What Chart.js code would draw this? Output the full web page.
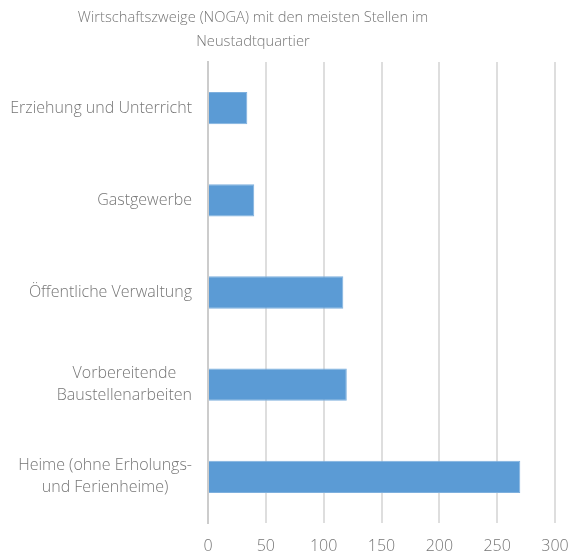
<!DOCTYPE html>
<html>
<head>
<meta charset="utf-8">
<script src="https://cdn.jsdelivr.net/npm/chart.js@4/dist/chart.umd.min.js"></script>
<style>
  html, body { margin: 0; padding: 0; background: #fff; }
  #wrap { width: 571px; height: 553px; }
</style>
</head>
<body>
<div id="wrap"><canvas id="nogaChart" width="571" height="553"></canvas></div>
<script>
const categories = [
    ['Erziehung und Unterricht'],
    ['Gastgewerbe'],
    ['Öffentliche Verwaltung'],
    ['Vorbereitende', 'Baustellenarbeiten'],
    ['Heime (ohne Erholungs-', 'und Ferienheime)']
];
const stellen = [34, 40, 117, 120, 270];
const xTicks = [0, 50, 100, 150, 200, 250, 300];
const titleLines = ['Wirtschaftszweige (NOGA) mit den meisten Stellen im', 'Neustadtquartier'];

const textColor = '#767676';
const fontFamily = "'Open Sans', sans-serif";

// title and category labels drawn by hand so they sit where the original puts them
const chartText = {
    id: 'chartText',
    afterDraw(chart) {
        const ctx = chart.ctx;
        const yScale = chart.scales.y;
        ctx.save();
        ctx.fillStyle = textColor;
        ctx.textAlign = 'center';
        ctx.textBaseline = 'middle';

        ctx.font = '300 14.7px ' + fontFamily;
        titleLines.forEach((line, j) => ctx.fillText(line, 253, 18 + j * 24));

        ctx.font = '300 16px ' + fontFamily;
        categories.forEach((lines, i) => {
            const y = yScale.getPixelForTick(i);
            const maxW = Math.max(...lines.map(l => ctx.measureText(l).width));
            const cx = 192 - maxW / 2;
            lines.forEach((line, j) => {
                ctx.fillText(line, cx, y + (j - (lines.length - 1) / 2) * 22);
            });
        });
        ctx.restore();
    }
};

new Chart(document.getElementById('nogaChart').getContext('2d'), {
    type: 'bar',
    data: {
        labels: categories,
        datasets: [{
            label: 'Stellen',
            data: stellen,
            backgroundColor: '#5b9bd5',
            borderColor: '#7eb0de',
            borderWidth: 1,
            categoryPercentage: 1,
            barPercentage: 0.35
        }]
    },
    options: {
        indexAxis: 'y',
        responsive: false,
        animation: false,
        layout: { padding: { left: 0, right: 16, top: 62, bottom: 0 } },
        plugins: {
            legend: { display: false },
            tooltip: { enabled: false },
            title: { display: false }
        },
        scales: {
            x: {
                min: 0,
                max: 300,
                afterBuildTicks: axis => { axis.ticks = xTicks.map(v => ({ value: v })); },
                afterFit: axis => {
                    axis.height = 30;
                    axis.paddingLeft = 0;
                    axis.paddingRight = 0;
                },
                grid: { color: '#dedede', lineWidth: 2, drawTicks: false },
                border: { display: false },
                ticks: {
                    color: textColor,
                    padding: 14,
                    font: { family: fontFamily, size: 16, weight: 300 }
                }
            },
            y: {
                afterFit: axis => { axis.width = 208; },
                grid: { display: false },
                border: { color: '#cccccc', width: 2 },
                ticks: { display: false }
            }
        }
    },
    plugins: [chartText]
});
</script>
</body>
</html>
